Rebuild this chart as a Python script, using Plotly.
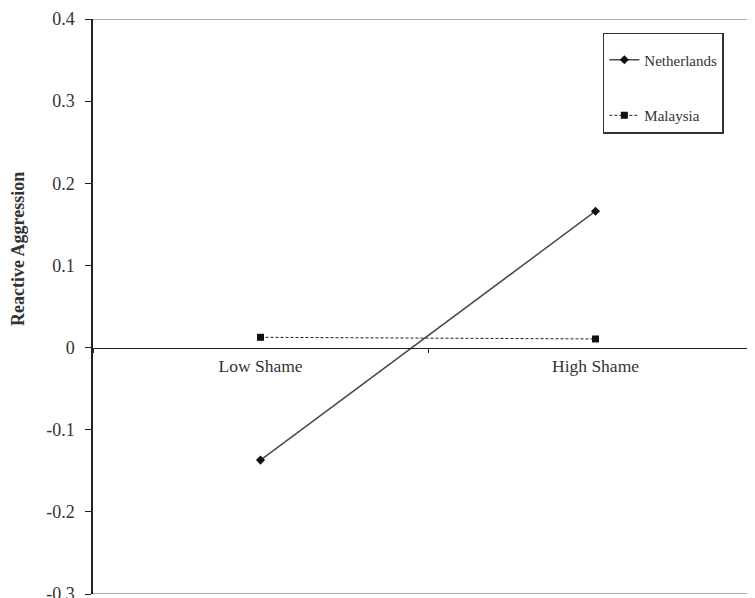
import plotly.graph_objects as go

categories = ["Low Shame", "High Shame"]
netherlands = [-0.137, 0.166]
malaysia = [0.0125, 0.0105]
y_ticks = [-0.3, -0.2, -0.1, 0, 0.1, 0.2, 0.3, 0.4]
y_ticktext = ["-0.3", "-0.2", "-0.1", "0", "0.1", "0.2", "0.3", "0.4"]

FONT = "Liberation Serif"

fig = go.Figure()
fig.add_trace(go.Scatter(
    x=categories, y=netherlands, name="Netherlands", mode="lines+markers",
    line=dict(color="#4a4a4a", width=1.5),
    marker=dict(symbol="diamond", size=7, color="#111111"),
    legendgroup="a",
))
fig.add_trace(go.Scatter(
    x=categories, y=malaysia, name="Malaysia", mode="lines+markers",
    line=dict(color="#222222", width=1, dash="3px,2px"),
    marker=dict(symbol="square", size=7, color="#111111"),
    legendgroup="b",
))

fig.update_layout(
    width=755, height=598,
    margin=dict(l=85, r=0, t=11, b=12, autoexpand=False),
    paper_bgcolor="white", plot_bgcolor="white",
    font=dict(family=FONT, color="#222222", size=16),
    xaxis=dict(
        type="category", categoryarray=categories, range=[-0.5, 1.5],
        anchor="free", position=0.3 / 0.7, automargin=False,
        showline=True, linecolor="#222222", linewidth=1,
        ticks="outside", tickson="boundaries", ticklen=4, tickcolor="#222222",
        ticklabelstandoff=2,
        showgrid=False, zeroline=False,
        tickfont=dict(family=FONT, size=17.5, color="#333333"),
    ),
    yaxis=dict(
        range=[-0.3, 0.4], tickvals=y_ticks, ticktext=y_ticktext,
        automargin=False,
        showline=True, linecolor="#222222", linewidth=1.5,
        ticks="outside", ticklen=6, tickcolor="#222222",
        ticklabelstandoff=7,
        showgrid=False, zeroline=False,
        tickfont=dict(family=FONT, size=18, color="#333333"),
    ),
    legend=dict(
        x=0.761, y=0.9757, xanchor="left", yanchor="top",
        bordercolor="#333333", borderwidth=1.5, bgcolor="white",
        font=dict(family=FONT, size=15, color="#333333"),
        tracegroupgap=33, traceorder="grouped",
        entrywidth=112, entrywidthmode="pixels",
        title=dict(text=" ", font=dict(size=7)),
    ),
    shapes=[
        dict(type="line", xref="paper", yref="y", x0=0, x1=1, y0=0.4, y1=0.4,
             line=dict(color="#aaaaaa", width=2), layer="below"),
        dict(type="line", xref="paper", yref="y", x0=0, x1=1, y0=-0.3, y1=-0.3,
             line=dict(color="#aaaaaa", width=2), layer="below"),
    ],
    annotations=[dict(
        text="<b>Reactive Aggression</b>", textangle=-90,
        xref="paper", yref="y", x=-0.112, y=0.12,
        xanchor="center", yanchor="middle", showarrow=False,
        font=dict(family=FONT, size=18, color="#333333"),
    )],
)

fig.write_html("out.html")
